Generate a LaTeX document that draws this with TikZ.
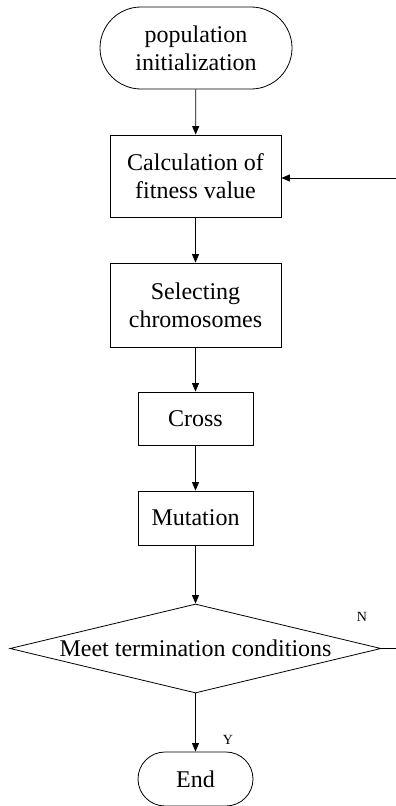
\documentclass[tikz,border=0pt]{standalone}
\usepackage{fontspec}
\setmainfont{Liberation Serif}
\usetikzlibrary{arrows.meta,shapes.geometric}
\begin{document}
\begin{tikzpicture}[x=1pt,y=-1pt,
  line width=0.8pt,
  every node/.style={font=\fontsize{24}{28}\selectfont, inner sep=0pt, align=center},
  procbox/.style={draw, rectangle},
  termbox/.style={draw, rectangle},
  decbox/.style={draw, diamond, aspect=4.17},
  lbl/.style={font=\fontsize{14}{16}\selectfont},
  arr/.style={-{Triangle[length=8.5pt,width=7pt]}}
]
\useasboundingbox (0,0) rectangle (396,806);
\node[termbox, minimum width=192pt, minimum height=82pt, rounded corners=41pt] (t) at (196,48) {population\\initialization};
\node[procbox, minimum width=171pt, minimum height=82pt] (b1) at (195.5,176) {Calculation of\\fitness value};
\node[procbox, minimum width=171pt, minimum height=84pt] (b2) at (195.5,305) {Selecting\\chromosomes};
\node[procbox, minimum width=115pt, minimum height=53pt] (c) at (195.5,418.5) {Cross};
\node[procbox, minimum width=115pt, minimum height=54pt] (m) at (195.5,518) {Mutation};
\node[decbox, minimum width=371pt, minimum height=89pt] (d) at (195.5,648.5) {Meet termination conditions};
\node[termbox, minimum width=115pt, minimum height=54pt, rounded corners=27pt] (e) at (195.5,779) {End};
\coordinate (rt) at (396,178);
\coordinate (rd) at (396,648.5);
\draw[arr] (t) -- (b1);
\draw[arr] (b1) -- (b2);
\draw[arr] (b2) -- (c);
\draw[arr] (c) -- (m);
\draw[arr] (m) -- (d);
\draw[arr] (d) -- (e);
\draw[arr] (rt) -- (rt -| b1.east);
\draw (d.east) -- (rd);
\node[lbl] (n) at (362,617) {N};
\node[lbl] (y) at (228,740) {Y};
\end{tikzpicture}
\end{document}
